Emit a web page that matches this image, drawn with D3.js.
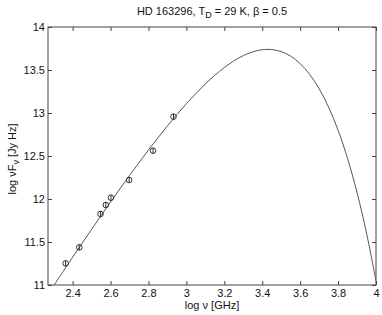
<!DOCTYPE html>
<html>
<head>
<meta charset="utf-8">
<script src="https://cdn.jsdelivr.net/npm/d3@7"></script>
<style>
  body { margin: 0; background: #fff; }
  text { font-family: "Liberation Sans", Arial, sans-serif; }
</style>
</head>
<body>
<svg id="chart" width="382" height="315"></svg>
<script>
// observed points (log nu, log nuFnu)
var obsLogNu = [2.363, 2.435, 2.547, 2.575, 2.602, 2.698, 2.824, 2.932];
var obsLogF = [11.252, 11.438, 11.826, 11.930, 12.015, 12.221, 12.562, 12.957];

// fitted curve
var curveLogNu = [2.30, 2.35, 2.40, 2.45, 2.50, 2.55, 2.60, 2.65, 2.70, 2.75, 2.80, 2.85,
  2.90, 2.95, 3.00, 3.05, 3.10, 3.15, 3.20, 3.25, 3.30, 3.35, 3.40, 3.45, 3.50, 3.55,
  3.60, 3.65, 3.70, 3.75, 3.80, 3.85, 3.90, 3.95, 4.00];
var curveLogF = [10.992, 11.158, 11.323, 11.486, 11.647, 11.807, 11.965, 12.121, 12.274,
  12.423, 12.570, 12.712, 12.850, 12.982, 13.108, 13.227, 13.338, 13.439, 13.529, 13.605,
  13.667, 13.711, 13.736, 13.738, 13.714, 13.661, 13.574, 13.449, 13.283, 13.068, 12.800,
  12.471, 12.075, 11.604, 11.048];

var xTicks = [2.4, 2.6, 2.8, 3.0, 3.2, 3.4, 3.6, 3.8, 4.0];
var yTicks = [11, 11.5, 12, 12.5, 13, 13.5, 14];

var svg = d3.select('#chart');
var plotL = 48, plotR = 376, plotT = 27, plotB = 285;

var xScale = d3.scaleLinear().domain([2.27, 4]).range([plotL, plotR]);
var yScale = d3.scaleLinear().domain([11, 14]).range([plotB, plotT]);

var axisColor = '#444';

// clip to plot box
svg.append('clipPath').attr('id', 'clip')
  .append('rect')
  .attr('x', plotL).attr('y', plotT)
  .attr('width', plotR - plotL).attr('height', plotB - plotT);

// axes with inward ticks
function fmt(d) { return String(+d.toFixed(1)); }

var xAxis = svg.append('g')
  .attr('transform', 'translate(0,' + plotB + ')')
  .call(d3.axisBottom(xScale).tickValues(xTicks).tickSizeInner(-4).tickSizeOuter(0).tickPadding(4).tickFormat(fmt));
var xAxisTop = svg.append('g')
  .attr('transform', 'translate(0,' + plotT + ')')
  .call(d3.axisTop(xScale).tickValues(xTicks).tickSizeInner(-4).tickSizeOuter(0).tickFormat(''));
var yAxis = svg.append('g')
  .attr('transform', 'translate(' + plotL + ',0)')
  .call(d3.axisLeft(yScale).tickValues(yTicks).tickSizeInner(-4).tickSizeOuter(0).tickPadding(3).tickFormat(fmt));
var yAxisRight = svg.append('g')
  .attr('transform', 'translate(' + plotR + ',0)')
  .call(d3.axisRight(yScale).tickValues(yTicks).tickSizeInner(-4).tickSizeOuter(0).tickFormat(''));

[xAxis, xAxisTop, yAxis, yAxisRight].forEach(function(g) {
  g.select('.domain').remove();
  g.selectAll('line').attr('stroke', axisColor);
  g.selectAll('text').attr('fill', '#111').style('font-size', '11px')
    .style('font-family', '"Liberation Sans", Arial, sans-serif');
});

svg.append('rect')
  .attr('x', plotL).attr('y', plotT)
  .attr('width', plotR - plotL).attr('height', plotB - plotT)
  .attr('fill', 'none').attr('stroke', axisColor).attr('stroke-width', 1);

// model curve
var line = d3.line()
  .x(function(d, i) { return xScale(curveLogNu[i]); })
  .y(function(d) { return yScale(d); })
  .curve(d3.curveCatmullRom);

svg.append('path')
  .datum(curveLogF)
  .attr('clip-path', 'url(#clip)')
  .attr('d', line)
  .attr('fill', 'none')
  .attr('stroke', '#555')
  .attr('stroke-width', 1);

// observations
var pts = svg.append('g').selectAll('.pt')
  .data(obsLogNu)
  .enter().append('g')
  .attr('class', 'pt')
  .attr('transform', function(d, i) {
    return 'translate(' + xScale(d) + ',' + yScale(obsLogF[i]) + ')';
  });
pts.append('circle').attr('r', 2.8).attr('fill', 'none').attr('stroke', '#333').attr('stroke-width', 1);
pts.append('line').attr('x1', 0).attr('x2', 0).attr('y1', -3).attr('y2', 3)
  .attr('stroke', '#333').attr('stroke-width', 1);

// title
var title = svg.append('text')
  .attr('x', (plotL + plotR) / 2).attr('y', 15)
  .attr('text-anchor', 'middle')
  .style('font-size', '11px').attr('fill', '#111');
title.append('tspan').text('HD 163296, T');
title.append('tspan').attr('dy', 3).style('font-size', '9px').text('D');
title.append('tspan').attr('dy', -3).text(' = 29 K, \u03b2 = 0.5');

// x label
svg.append('text')
  .attr('x', (plotL + plotR) / 2).attr('y', 309)
  .attr('text-anchor', 'middle')
  .style('font-size', '11px').attr('fill', '#111')
  .text('log \u03bd [GHz]');

// y label
var ylab = svg.append('text')
  .attr('transform', 'translate(16,' + ((plotT + plotB) / 2 + 3) + ') rotate(-90)')
  .attr('text-anchor', 'middle')
  .style('font-size', '11px').attr('fill', '#111');
ylab.append('tspan').text('log \u03bdF');
ylab.append('tspan').attr('dy', 3).style('font-size', '9px').text('\u03bd');
ylab.append('tspan').attr('dy', -3).text('  [Jy Hz]');
</script>
</body>
</html>
